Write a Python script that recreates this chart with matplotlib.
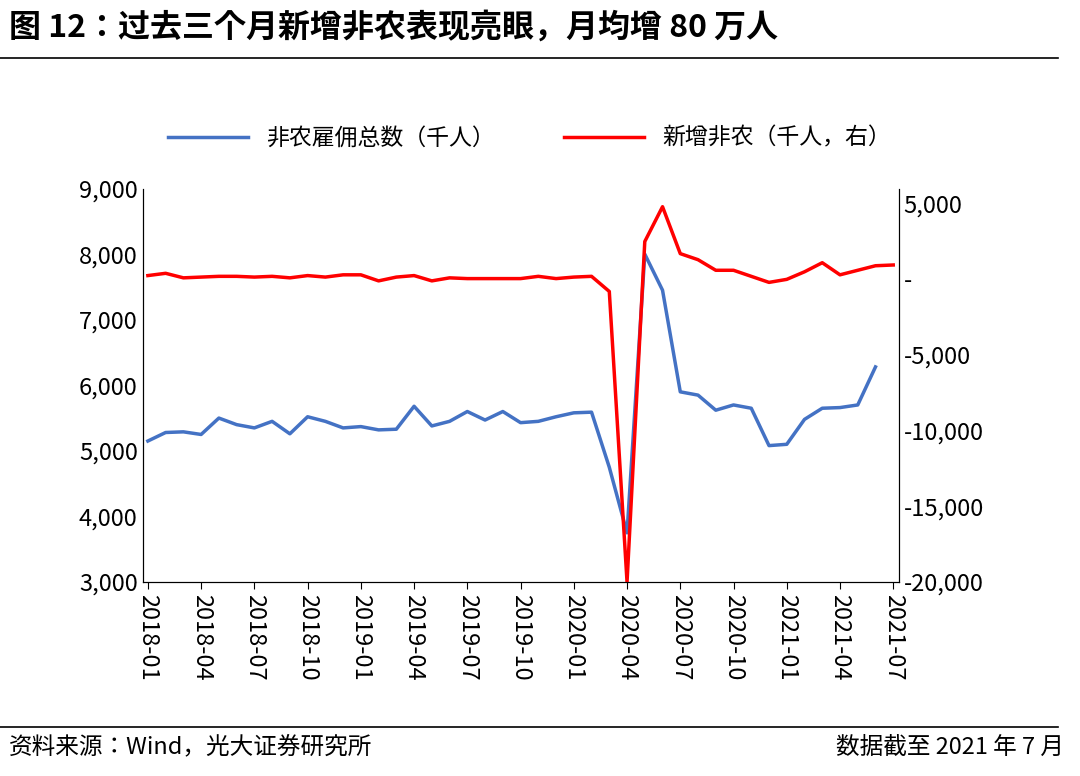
import matplotlib
matplotlib.use("Agg")
import matplotlib.pyplot as plt
from matplotlib import font_manager
import pandas as pd

names = {f.name for f in font_manager.fontManager.ttflist}
cands = [n for n in ["Noto Sans CJK SC", "Noto Sans CJK JP", "Noto Sans CJK TC", "Noto Sans CJK KR"] if n in names]
cands += [n for n in sorted(names) if "CJK" in n]
plt.rcParams["font.family"] = "sans-serif"
plt.rcParams["font.sans-serif"] = cands + ["DejaVu Sans"]

months = pd.date_range("2018-01-01", "2021-07-01", freq="MS")
total_emp = [5150,5280,5290,5250,5500,5400,5350,5450,5260,5520,5450,5350,
             5370,5320,5330,5680,5380,5450,5600,5470,5600,5430,5450,5520,
             5580,5590,4750,3750,8000,7450,5900,5850,5620,5700,5650,5080,
             5100,5480,5650,5660,5700,6280]
new_nfp = [250,400,100,150,200,200,150,200,100,250,150,300,
           300,-100,150,250,-100,100,50,50,50,50,200,50,
           150,200,-800,-20000,2500,4800,1700,1300,600,600,200,-200,
           0,500,1100,300,600,900,950]
tick_idx = list(range(0, 43, 3))
tick_labels = [months[i].strftime("%Y-%m") for i in tick_idx]

fig = plt.figure(figsize=(10.8, 7.76), dpi=100)
fig.text(0.008, 0.965, "图 12：过去三个月新增非农表现亮眼，月均增 80 万人", fontsize=23, fontweight="bold", va="center")
fig.add_artist(plt.Line2D([0.0, 0.98], [0.925, 0.925], color="black", lw=1.2))
fig.add_artist(plt.Line2D([0.0, 0.98], [0.063, 0.063], color="black", lw=1.2))
fig.text(0.008, 0.037, "资料来源：Wind，光大证券研究所", fontsize=17, va="center")
fig.text(0.985, 0.037, "数据截至 2021 年 7 月", fontsize=17, va="center", ha="right")

ax = fig.add_axes([0.132, 0.25, 0.70, 0.507])
x = list(range(43))
ax2 = ax.twinx()
l1, = ax.plot(x[:len(total_emp)], total_emp, color="#4472C4", lw=2.5, label="非农雇佣总数（千人）", zorder=3)
ax.set_ylim(3000, 9000)
ax.set_yticks(range(3000, 9001, 1000))
ax.set_yticklabels([f"{v:,}" for v in range(3000, 9001, 1000)], fontsize=17)
ax.set_xlim(-0.3, 42.3)
ax.set_xticks(tick_idx)
ax.set_xticklabels(tick_labels, rotation=-90, fontsize=17)
ax.tick_params(axis="x", length=5, direction="out")
ax.tick_params(axis="y", length=0)
ax.spines["top"].set_visible(False)

l2, = ax2.plot(x, new_nfp, color="#FF0000", lw=2.5, label="新增非农（千人，右）")
ax2.set_ylim(-20000, 6000)
ax2.set_yticks(range(-20000, 5001, 5000))
ax2.set_yticklabels([f"{v:,}" if v != 0 else "-" for v in range(-20000, 5001, 5000)], fontsize=17)
ax2.tick_params(axis="y", length=0)
ax2.spines["top"].set_visible(False)

fig.legend([l1, l2], [l1.get_label(), l2.get_label()], loc="center", bbox_to_anchor=(0.49, 0.822),
           ncol=2, frameon=False, fontsize=16.5, handlelength=3.5, columnspacing=3)
fig.savefig("out.png", dpi=100)
